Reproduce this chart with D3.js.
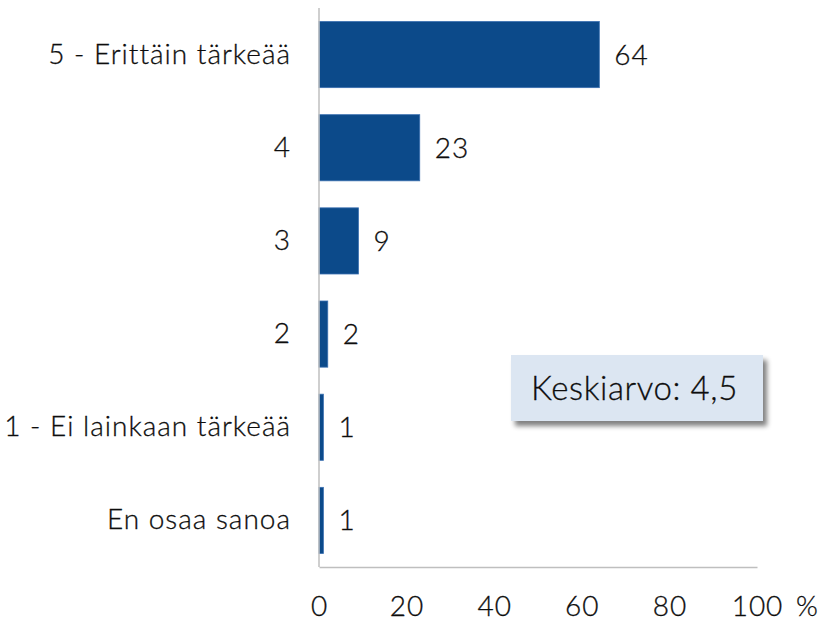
<!DOCTYPE html>
<html>
<head>
<meta charset="utf-8">
<script src="https://cdn.jsdelivr.net/npm/d3@7/dist/d3.min.js"></script>
<style>
  html, body { margin: 0; padding: 0; background: #ffffff; }
  svg { display: block; }
  text { font-family: Lato, "Open Sans", sans-serif; font-weight: 300; fill: #0d0d0d;
         stroke: #0d0d0d; stroke-width: 0.3px; letter-spacing: 1px; }
</style>
</head>
<body>
<script>
// Answer categories, top to bottom
const categories = [
  "5 - Erittäin tärkeää",
  "4",
  "3",
  "2",
  "1 - Ei lainkaan tärkeää",
  "En osaa sanoa"
];
// Share of respondents, %
const values = [64, 23, 9, 2, 1, 1];
// X-axis ticks
const tickValues = [0, 20, 40, 60, 80, 100];
const unitLabel = "%";
const meanLabel = "Keskiarvo: 4,5";

const width = 821, height = 621;
const margin = { left: 319, right: 64, top: 8, bottom: 54 };
const fontSize = 28;

const svg = d3.select("body").append("svg")
  .attr("width", width)
  .attr("height", height);

const defs = svg.append("defs");
const shadow = defs.append("filter").attr("id", "boxShadow")
  .attr("x", "-10%").attr("y", "-20%").attr("width", "130%").attr("height", "160%");
shadow.append("feGaussianBlur").attr("in", "SourceAlpha").attr("stdDeviation", 2.5).attr("result", "blur");
shadow.append("feOffset").attr("in", "blur").attr("dx", 4).attr("dy", 5).attr("result", "off");
shadow.append("feComponentTransfer").attr("in", "off").attr("result", "shade")
  .append("feFuncA").attr("type", "linear").attr("slope", 0.5);
const merge = shadow.append("feMerge");
merge.append("feMergeNode").attr("in", "shade");
merge.append("feMergeNode").attr("in", "SourceGraphic");

const x = d3.scaleLinear()
  .domain([0, 100])
  .range([margin.left, width - margin.right]);

const y = d3.scaleBand()
  .domain(categories)
  .range([margin.top, height - margin.bottom])
  .paddingInner(0.29)
  .paddingOuter(0.145);

// Bars
svg.append("g").selectAll("rect")
  .data(values)
  .join("rect")
  .attr("x", x(0))
  .attr("y", (d, i) => y(categories[i]))
  .attr("width", d => x(d) - x(0))
  .attr("height", y.bandwidth())
  .attr("fill", "#0c4a8a")
  .attr("stroke", "#3a6fb0")
  .attr("stroke-width", 0.8);

// Value labels
svg.append("g").selectAll("text")
  .data(values)
  .join("text")
  .attr("x", d => x(d) + 15)
  .attr("y", (d, i) => y(categories[i]) + y.bandwidth() / 2)
  .attr("dy", "0.36em")
  .attr("font-size", fontSize)
  .text(d => d);

// Category axis
const yAxis = svg.append("g")
  .attr("transform", `translate(${x(0)},0)`)
  .call(d3.axisLeft(y).tickSize(0).tickPadding(28));
yAxis.attr("font-family", null);
yAxis.select(".domain").attr("stroke", "#bfbfbf").attr("stroke-width", 1.5)
  .attr("d", `M0,${margin.top}V${height - margin.bottom}`);
yAxis.selectAll("text")
  .attr("font-size", fontSize)
  .attr("fill", "#0d0d0d");

// Value axis
const xAxis = svg.append("g")
  .attr("transform", `translate(0,${height - margin.bottom})`)
  .call(d3.axisBottom(x).tickValues(tickValues).tickSize(0).tickPadding(29));
xAxis.attr("font-family", null);
xAxis.select(".domain").attr("stroke", "#bfbfbf").attr("stroke-width", 1.5);
xAxis.selectAll("text")
  .attr("font-size", fontSize)
  .attr("fill", "#0d0d0d");

svg.append("text")
  .attr("x", x(100) + 39)
  .attr("y", height - margin.bottom + 29)
  .attr("dy", "0.71em")
  .attr("font-size", fontSize)
  .text(unitLabel);

// Mean value callout
const box = svg.append("g").attr("transform", "translate(511,355)");
box.append("rect")
  .attr("width", 252)
  .attr("height", 66)
  .attr("fill", "#dce6f2")
  .attr("filter", "url(#boxShadow)");
box.append("text")
  .attr("x", 20)
  .attr("y", 33)
  .attr("dy", "0.36em")
  .attr("font-size", 33)
  .style("letter-spacing", "0.6px")
  .text(meanLabel);
</script>
</body>
</html>
